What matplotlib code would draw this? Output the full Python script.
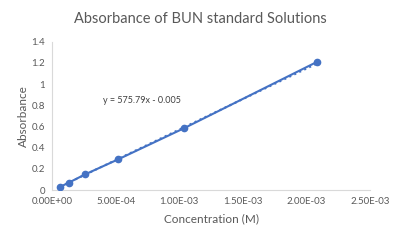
import numpy as np
import matplotlib.pyplot as plt

conc = [6.5e-5, 1.3e-4, 2.6e-4, 5.2e-4, 1.04e-3, 2.08e-3]
absorb = [0.031, 0.069, 0.148, 0.290, 0.585, 1.208]
slope = 575.79
intercept = -0.005
x_ticks = [0, 5e-4, 1e-3, 1.5e-3, 2e-3, 2.5e-3]
x_labels = ['0.00E+00', '5.00E-04', '1.00E-03', '1.50E-03', '2.00E-03', '2.50E-03']
y_ticks = [0, 0.2, 0.4, 0.6, 0.8, 1, 1.2, 1.4]
y_labels = ['0', '0.2', '0.4', '0.6', '0.8', '1', '1.2', '1.4']

plt.rcParams['font.family'] = ['Lato', 'DejaVu Sans']
blue = '#4472C4'
grey = '#595959'

fig = plt.figure(figsize=(4, 2.4), dpi=100)
ax = fig.add_axes([0.13, 0.208, 0.795, 0.618])

ax.plot(conc, absorb, color=blue, lw=1.5, marker='o', ms=4.5, zorder=3)
xs = np.array([conc[0], conc[-1]])
ax.plot(xs, slope * xs + intercept, color=blue, lw=1.5, ls=':', zorder=2)

ax.set_xlim(0, 2.5e-3)
ax.set_ylim(0, 1.4)
ax.set_xticks(x_ticks)
ax.set_xticklabels(x_labels)
ax.set_yticks(y_ticks)
ax.set_yticklabels(y_labels)
ax.tick_params(length=0, labelsize=7, labelcolor=grey, pad=5)

for s in ['top', 'right']:
    ax.spines[s].set_visible(False)
for s in ['left', 'bottom']:
    ax.spines[s].set_color('#d9d9d9')
    ax.spines[s].set_linewidth(0.8)

ax.set_xlabel('Concentration (M)', fontsize=8.5, color=grey, labelpad=5)
ax.set_ylabel('Absorbance', fontsize=8.5, color=grey, labelpad=2)
fig.text(0.5, 0.92, 'Absorbance of BUN standard Solutions', fontsize=10.5,
         color=grey, ha='center', va='center')

ax.text(0.16, 0.605, 'y = 575.79x - 0.005', transform=ax.transAxes,
        fontsize=6.5, color='#404040', va='center')

fig.savefig('out.png', dpi=100)
